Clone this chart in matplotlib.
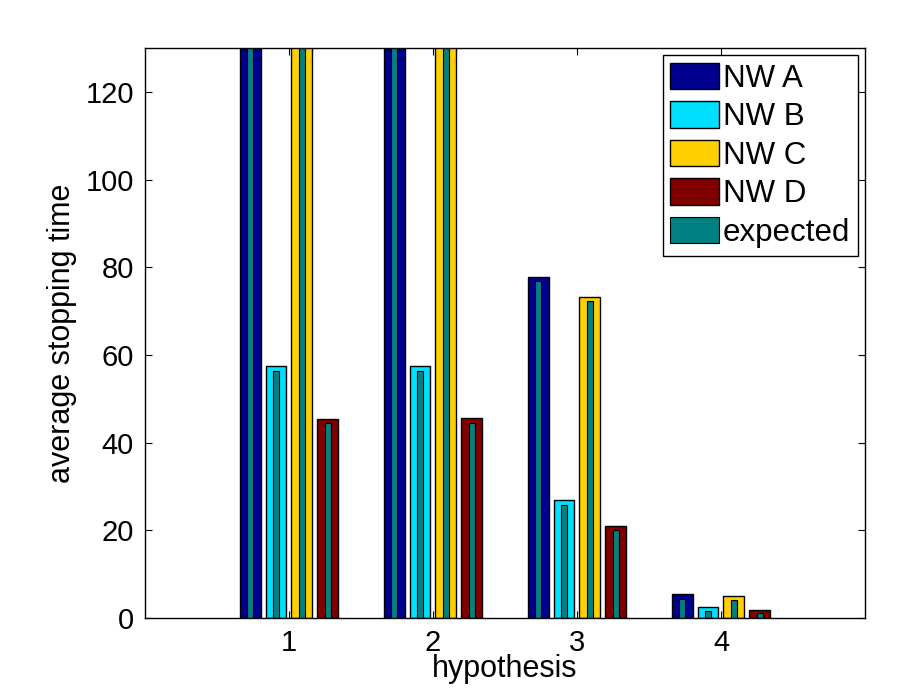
import numpy as np
import matplotlib
matplotlib.use("Agg")
import matplotlib.pyplot as plt

plt.rcParams["font.family"] = ["Liberation Sans", "DejaVu Sans"]

# hypotheses on the x axis
hypotheses = [1, 2, 3, 4]
networks = ["NW A", "NW B", "NW C", "NW D"]

# measured average stopping time (A and C run off the top for hypotheses 1, 2)
nw_a = [150.0, 150.0, 77.8, 5.5]
nw_b = [57.5, 57.4, 27.0, 2.6]
nw_c = [150.0, 150.0, 73.3, 5.0]
nw_d = [45.5, 45.6, 20.9, 1.9]

# expected stopping time for each network
exp_a = [148.0, 148.0, 76.8, 4.3]
exp_b = [56.4, 56.4, 25.7, 1.7]
exp_c = [148.0, 148.0, 72.2, 4.0]
exp_d = [44.4, 44.4, 20.1, 1.1]

colors = ["#00008f", "#00dfff", "#ffcf00", "#800000"]
exp_color = "#008080"

fig = plt.figure(figsize=(8.97, 6.88), dpi=100)
ax = fig.add_axes([0.1616, 0.1017, 0.8027, 0.8285])

x = np.array(hypotheses, dtype=float)
offsets = [-0.27, -0.09, 0.09, 0.27]
measured = [nw_a, nw_b, nw_c, nw_d]
expected = [exp_a, exp_b, exp_c, exp_d]

for i in range(4):
    ax.bar(x + offsets[i], measured[i], width=0.145, color=colors[i],
           edgecolor="black", linewidth=1.0, label=networks[i], zorder=2)
for i in range(4):
    ax.bar(x + offsets[i], expected[i], width=0.042, color=exp_color,
           edgecolor="black", linewidth=0.8,
           label="expected" if i == 0 else None, zorder=3)

ax.set_xlim(0, 5)
ax.set_ylim(0, 130)
ax.set_xticks(hypotheses)
ax.set_yticks([0, 20, 40, 60, 80, 100, 120])
ax.tick_params(direction="in", length=5, width=0.8, top=True, right=True,
               labelsize=21, pad=8)
for s in ax.spines.values():
    s.set_linewidth(1.0)
    s.set_zorder(4)

ax.set_xlabel("hypothesis", fontsize=22, labelpad=-2)
ax.set_ylabel("average stopping time", fontsize=22, labelpad=6)

leg = ax.legend(loc="upper right", fontsize=22.5, fancybox=False,
                edgecolor="black", framealpha=1, borderaxespad=0.22,
                borderpad=0.25, handlelength=1.55, handleheight=0.93,
                handletextpad=0.13, labelspacing=0.24)
leg.get_frame().set_linewidth(1.0)

fig.savefig("out.png", dpi=100)
